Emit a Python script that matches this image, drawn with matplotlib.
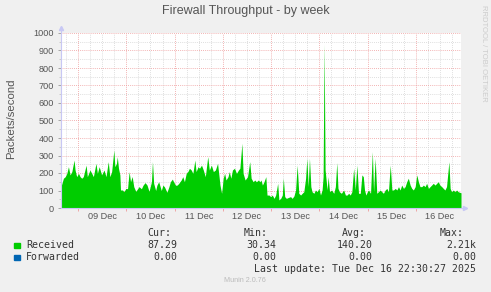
import matplotlib
matplotlib.use('Agg')
import matplotlib.pyplot as plt
import numpy as np

W, H = 491, 292

# hours relative to 09 Dec 00:00
times = [-8.5, -7.3, -6.4, -5.6, -4.8, -4.0, -3.1, -2.0, -1.5, -0.7, 0.2, 1.0, 1.8, 2.6,
         4.0, 4.6, 5.9, 6.8, 7.6, 8.9, 9.6, 10.5, 11.7, 12.9, 13.9, 15.0, 15.8, 16.7, 17.8,
         18.3, 19.1, 19.5, 20.1, 20.8, 21.1, 22.1, 22.8, 23.8, 24.6, 25.4, 26.1, 26.9, 27.7,
         28.7, 29.3, 30.3, 31.5, 32.3, 33.3, 34.3, 35.3, 36.5, 37.0, 37.6, 38.6, 39.2, 40.1,
         41.4, 42.2, 43.0, 44.2, 45.2, 45.9, 46.9, 47.5, 48.5, 49.3, 50.1, 51.3, 52.1, 52.9,
         53.8, 54.6, 55.4, 56.3, 57.1, 58.1, 58.7, 59.7, 60.4, 61.4, 62.3, 63.3, 64.5, 65.3,
         66.3, 67.3, 68.3, 69.4, 70.6, 71.4, 72.2, 72.9, 73.6, 74.6, 75.2, 76.0, 76.8, 77.8,
         78.8, 79.8, 80.5, 81.5, 82.1, 83.1, 84.3, 85.4, 86.1, 87.1, 87.9, 88.7, 89.7, 90.4,
         91.0, 91.7, 92.5, 93.4, 94.0, 95.0, 95.8, 96.6, 97.5, 98.3, 99.3, 99.9, 100.8, 101.6,
         102.1, 102.8, 103.6, 104.6, 105.7, 106.5, 107.4, 108.2, 109.0, 109.8, 110.7, 111.5,
         112.3, 113.2, 113.8, 114.5, 115.1, 115.8, 116.4, 117.3, 118.1, 118.9, 119.8, 120.6,
         121.4, 121.9, 122.4, 122.9, 123.9, 124.4, 125.1, 126.1, 127.2, 128.0, 128.7, 129.3,
         130.0, 131.0, 132.1, 133.0, 133.8, 134.6, 135.4, 136.2, 137.1, 137.9, 138.7, 139.5,
         140.4, 141.2, 141.9, 142.5, 143.2, 143.9, 144.5, 145.5, 146.4, 147.0, 147.8, 148.6,
         149.4, 150.3, 151.1, 151.9, 152.8, 153.6, 154.4, 155.3, 156.1, 156.9, 157.8, 158.6,
         159.4, 160.2, 161.0, 161.9, 162.7, 163.5, 164.3, 165.2, 166.0, 166.8, 167.7, 168.5,
         169.3, 170.1, 171.0, 171.8, 172.6, 173.4, 174.3, 175.1, 175.9, 176.7, 177.6, 178.4,
         179.2, 180.0, 180.9, 181.7, 182.5, 183.3, 184.5, 185.1, 185.8, 186.7, 187.5, 188.3,
         189.1, 190.5]

received = [122, 170, 179, 198, 236, 189, 208, 274, 217, 179, 198, 179, 170, 179,
            245, 179, 217, 198, 179, 255, 198, 236, 189, 217, 179, 265, 179, 208, 331,
            236, 255, 293, 227, 189, 103, 103, 93, 112, 110, 208, 150, 180, 122,
            95, 105, 122, 110, 130, 145, 131, 95, 150, 265, 141, 100, 130, 150,
            100, 131, 120, 90, 122, 150, 165, 150, 130, 131, 141, 160, 179, 150,
            198, 208, 227, 217, 198, 274, 208, 236, 227, 245, 217, 179, 293, 217,
            245, 208, 217, 255, 131, 84, 170, 198, 160, 179, 208, 170, 217, 227,
            198, 217, 227, 370, 198, 160, 179, 265, 170, 150, 160, 150, 160, 150,
            160, 131, 150, 179, 74, 74, 65, 74, 55, 74, 141, 46, 55, 74,
            170, 65, 55, 60, 65, 55, 69, 103, 245, 84, 74, 84,
            93, 170, 284, 122, 284, 122, 93, 84, 103, 93, 112, 74,
            103, 179, 937, 217, 103, 179, 93, 103, 84, 122, 259, 112,
            93, 84, 103, 74, 74, 84, 74, 93, 227, 103, 245, 84,
            84, 189, 179, 103, 74, 93, 103, 84, 322, 93, 284, 84,
            93, 103, 93, 84, 103, 112, 93, 245, 103, 103, 112, 103,
            122, 103, 131, 112, 122, 150, 170, 131, 112, 103, 122, 189,
            150, 122, 122, 131, 122, 141, 112, 122, 131, 141, 131, 141,
            150, 131, 122, 112, 103, 122, 265, 112, 93, 103, 93, 103,
            93, 87]

forwarded = [0.0] * len(times)

day_labels = ['09 Dec', '10 Dec', '11 Dec', '12 Dec', '13 Dec', '14 Dec', '15 Dec', '16 Dec']

series_names = ['Received', 'Forwarded']
series_colors = ['#00CC00', '#0066B3']
stat_heads = ['Cur:', 'Min:', 'Avg:', 'Max:']
stat_values = [['87.29', '30.34', '140.20', '2.21k'],
               ['0.00', '0.00', '0.00', '0.00']]

def px(x, y):
    return x / W, 1 - y / H

sans = 'Liberation Sans'

fig = plt.figure(figsize=(W / 100, H / 100), dpi=100, facecolor='#F0F0F0')
ax = fig.add_axes([61 / W, 1 - 208 / H, 400 / W, 175 / H])
ax.set_facecolor('white')

major_c = '#EE9A9A'
minor_c = '#D4D4D4'
dots = (0, (1, 1.5))

midnights = np.arange(0, 24 * len(day_labels), 24)
for h in np.arange(-6, times[-1], 6):
    if h % 24:
        ax.axvline(h, color=minor_c, lw=0.6, ls=dots, zorder=0.5)
for h in midnights:
    ax.axvline(h, color=major_c, lw=0.6, ls=dots, zorder=0.6)
for v in np.arange(50, 1001, 50):
    ax.axhline(v, color=major_c if v % 100 == 0 else minor_c, lw=0.6, ls=dots, zorder=0.5)

ax.fill_between(times, received, 0, color=series_colors[0], lw=0, zorder=1)
ax.fill_between(times, forwarded, 0, color=series_colors[1], lw=0, zorder=1)

ax.set_xlim(times[0], times[-1])
ax.set_ylim(0, 1000)

ax.set_yticks(np.arange(0, 1001, 100))
ax.set_yticks(np.arange(50, 1000, 100), minor=True)
ax.set_xticks(midnights)
ax.set_xticklabels([])
ax.set_xticks(midnights + 12, minor=True)
ax.set_xticklabels(day_labels, minor=True)
ax.tick_params(axis='y', which='major', length=2, width=0.6, color='#999999',
               labelsize=6.6, labelcolor='#555555', pad=3)
ax.tick_params(axis='y', which='minor', length=1.5, width=0.5, color='#BBBBBB')
ax.tick_params(axis='x', which='major', length=2, width=0.6, color=major_c)
ax.tick_params(axis='x', which='minor', length=0, labelsize=6.6, labelcolor='#555555', pad=3)
for lab in ax.get_xticklabels(minor=True) + ax.get_yticklabels():
    lab.set_family(sans)

for s in ax.spines.values():
    s.set_visible(False)
axis_c = '#C8C8F4'
ax.plot([0, 0], [0, 1.03], color=axis_c, lw=0.8, transform=ax.transAxes, clip_on=False, zorder=3)
ax.plot([0, 1.01], [0, 0], color=axis_c, lw=0.8, transform=ax.transAxes, clip_on=False, zorder=3)
ax.plot([0], [1.03], marker='^', ms=3, color=axis_c, transform=ax.transAxes, clip_on=False)
ax.plot([1.01], [0], marker='>', ms=3, color=axis_c, transform=ax.transAxes, clip_on=False)

fig.text(*px(245.5, 11), 'Firewall Throughput - by week', ha='center', va='center',
         fontsize=9, color='#555555', family=sans)
fig.text(*px(11, 119), 'Packets/second', ha='center', va='center', rotation=90,
         fontsize=8.2, color='#555555', family=sans)
fig.text(*px(483, 5), 'RRDTOOL / TOBI OETIKER', ha='center', va='top', rotation=270,
         fontsize=5.5, color='#CCCCCC', family=sans)

mono = dict(family='DejaVu Sans Mono', fontsize=7.1, color='#333333', va='center')
head_ends = [171, 268, 366, 464]
value_ends = [177.5, 276.5, 372.5, 476.5]
for x, t in zip(head_ends, stat_heads):
    fig.text(*px(x, 233), t, ha='right', **mono)
for i, name in enumerate(series_names):
    y = 245 + 12 * i
    fig.patches.append(plt.Rectangle(px(14, y + 3), 5.5 / W, 5.5 / H, transform=fig.transFigure,
                                     color=series_colors[i], figure=fig))
    fig.text(*px(26, y), name, ha='left', **mono)
    for x, t in zip(value_ends, stat_values[i]):
        fig.text(*px(x, y), t, ha='right', **mono)
fig.text(*px(476.5, 269), 'Last update: Tue Dec 16 22:30:27 2025', ha='right', **mono)
fig.text(*px(245, 281), 'Munin 2.0.76', ha='center', va='center', fontsize=5.2,
         color='#BBBBBB', family=sans)

fig.savefig('out.png', dpi=100, facecolor=fig.get_facecolor())
